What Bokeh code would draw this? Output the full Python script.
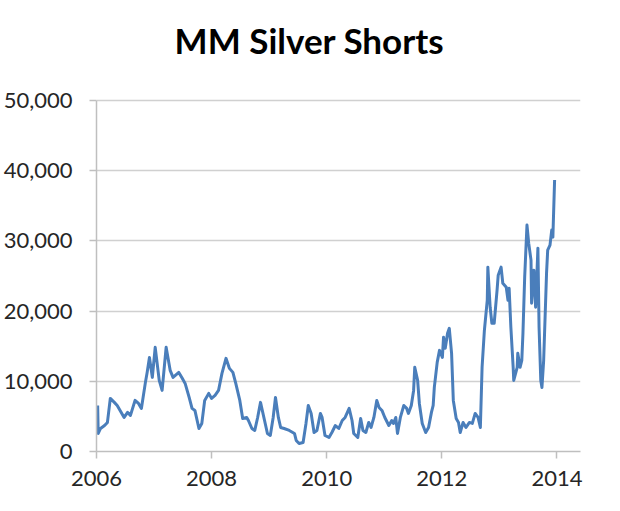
from bokeh.plotting import figure
from bokeh.models import FixedTicker, NumeralTickFormatter, Range1d, Label
from bokeh.embed import file_html
from bokeh.resources import INLINE

# Decimal years and money-manager silver short positions (contracts)
years = [
    2006.02, 2006.03, 2006.07, 2006.14, 2006.19, 2006.24, 2006.31, 2006.36, 2006.41, 2006.48,
    2006.54, 2006.59, 2006.67, 2006.73, 2006.78, 2006.85, 2006.88, 2006.92, 2006.97, 2007.02,
    2007.09, 2007.14, 2007.21, 2007.28, 2007.33, 2007.43, 2007.49, 2007.54, 2007.61, 2007.66,
    2007.71, 2007.78, 2007.83, 2007.88, 2007.95, 2008.00, 2008.06, 2008.12, 2008.18, 2008.25,
    2008.31, 2008.37, 2008.42, 2008.49, 2008.54, 2008.61, 2008.64, 2008.70, 2008.75, 2008.80,
    2008.85, 2008.92, 2008.97, 2009.02, 2009.07, 2009.11, 2009.16, 2009.20, 2009.26, 2009.35,
    2009.44, 2009.47, 2009.52, 2009.59, 2009.64, 2009.68, 2009.73, 2009.78, 2009.83, 2009.89,
    2009.92, 2009.97, 2010.04, 2010.09, 2010.15, 2010.21, 2010.27, 2010.32, 2010.39, 2010.44,
    2010.47, 2010.54, 2010.59, 2010.63, 2010.68, 2010.73, 2010.77, 2010.82, 2010.87, 2010.91,
    2010.96, 2011.01, 2011.08, 2011.13, 2011.16, 2011.20, 2011.23, 2011.28, 2011.34, 2011.39,
    2011.42, 2011.47, 2011.51, 2011.53, 2011.58, 2011.61, 2011.66, 2011.72, 2011.77, 2011.82,
    2011.85, 2011.87, 2011.92, 2011.96, 2012.01, 2012.03, 2012.06, 2012.10, 2012.13, 2012.17,
    2012.20, 2012.25, 2012.29, 2012.32, 2012.37, 2012.42, 2012.48, 2012.53, 2012.58, 2012.63,
    2012.67, 2012.70, 2012.74, 2012.79, 2012.80, 2012.84, 2012.87, 2012.91, 2012.96, 2012.98,
    2013.03, 2013.06, 2013.12, 2013.15, 2013.17, 2013.20, 2013.24, 2013.25, 2013.31, 2013.32,
    2013.36, 2013.39, 2013.41, 2013.44, 2013.48, 2013.51, 2013.55, 2013.56, 2013.60, 2013.63,
    2013.67, 2013.69, 2013.72, 2013.74, 2013.77, 2013.82, 2013.84, 2013.88, 2013.91, 2013.93,
    2013.96,
]
shorts = [
    6560, 2570, 3280, 3700, 4140, 7560, 7000, 6560, 5850, 4850,
    5570, 5140, 7280, 6850, 6140, 9850, 11270, 13400, 10560, 14840,
    10130, 8700, 14840, 11560, 10560, 11270, 10420, 9700, 7700, 6140,
    5850, 3280, 4000, 7280, 8280, 7560, 7990, 8700, 11130, 13270,
    11840, 11270, 9700, 7280, 4710, 4850, 4420, 3280, 3000, 4850,
    7000, 4420, 2570, 2280, 4850, 7700, 4850, 3420, 3280, 3000,
    2570, 1570, 1140, 1280, 4000, 6560, 5420, 2710, 3000, 5420,
    4850, 2280, 2000, 2710, 3700, 3280, 4420, 4850, 6140, 4420,
    2570, 2000, 4710, 3000, 2710, 4140, 3420, 4850, 7280, 6280,
    5850, 4850, 3700, 4420, 4000, 4850, 2570, 4850, 6560, 6140,
    5420, 6560, 8700, 12000, 10130, 6850, 4000, 2710, 3420, 5570,
    6560, 9130, 12700, 14410, 13400, 16270, 14700, 16840, 17550, 13980,
    7280, 4710, 4140, 2710, 4140, 3420, 4140, 4000, 5420, 4850,
    3420, 12000, 17270, 21550, 26260, 20550, 18270, 18270, 22970, 25110,
    26260, 23970, 23400, 21550, 23260, 17700, 12000, 10130, 12000, 13980,
    12000, 12990, 16840, 24830, 32250, 29680, 27260, 21120, 25830, 20550,
    28970, 17700, 10130, 9130, 12990, 25400, 28680, 29400, 31540, 30540,
    38670,
]
x_ticks = [2006, 2008, 2010, 2012, 2014]
y_ticks = [0, 10000, 20000, 30000, 40000, 50000]
title_text = "MM Silver Shorts"

# frame extends above the 50,000 line so the title can sit inside it
p = figure(width=604, height=495, output_backend="svg", toolbar_location=None,
           x_range=Range1d(2006, 2014.41), y_range=Range1d(0, 61400),
           min_border_left=92, min_border_right=24, min_border_top=20, min_border_bottom=44)

title = Label(x=x_ticks[0], y=y_ticks[-1], x_offset=213, y_offset=61,
              text=title_text, text_align="center", text_baseline="middle",
              text_font="Lato", text_font_style="bold", text_font_size="35px",
              text_color="#000000")
p.add_layout(title)

p.line(years, shorts, line_color="#4a7ebb", line_width=3, line_join="round")

p.outline_line_color = None
p.background_fill_color = "white"
p.border_fill_color = "white"

p.xaxis.ticker = FixedTicker(ticks=x_ticks)
p.xaxis.formatter = NumeralTickFormatter(format="0")
p.yaxis.ticker = FixedTicker(ticks=y_ticks)
p.yaxis.formatter = NumeralTickFormatter(format="0,0")
p.yaxis.bounds = (y_ticks[0], y_ticks[-1])

for ax in (p.xaxis, p.yaxis):
    ax.axis_line_color = "#bfbfbf"
    ax.axis_line_width = 1.5
    ax.major_tick_line_color = "#bfbfbf"
    ax.major_tick_line_width = 1.5
    ax.major_tick_in = 0
    ax.major_tick_out = 7
    ax.minor_tick_line_color = None
    ax.major_label_text_font = "Lato"
    ax.major_label_text_font_size = "22px"
    ax.major_label_text_color = "#262626"

p.xaxis.major_label_standoff = 12
p.yaxis.major_label_standoff = 17

p.xgrid.grid_line_color = None
p.ygrid.grid_line_color = "#d0d0d0"
p.ygrid.grid_line_width = 1.5

open("out.html", "w").write(file_html(p, INLINE))
